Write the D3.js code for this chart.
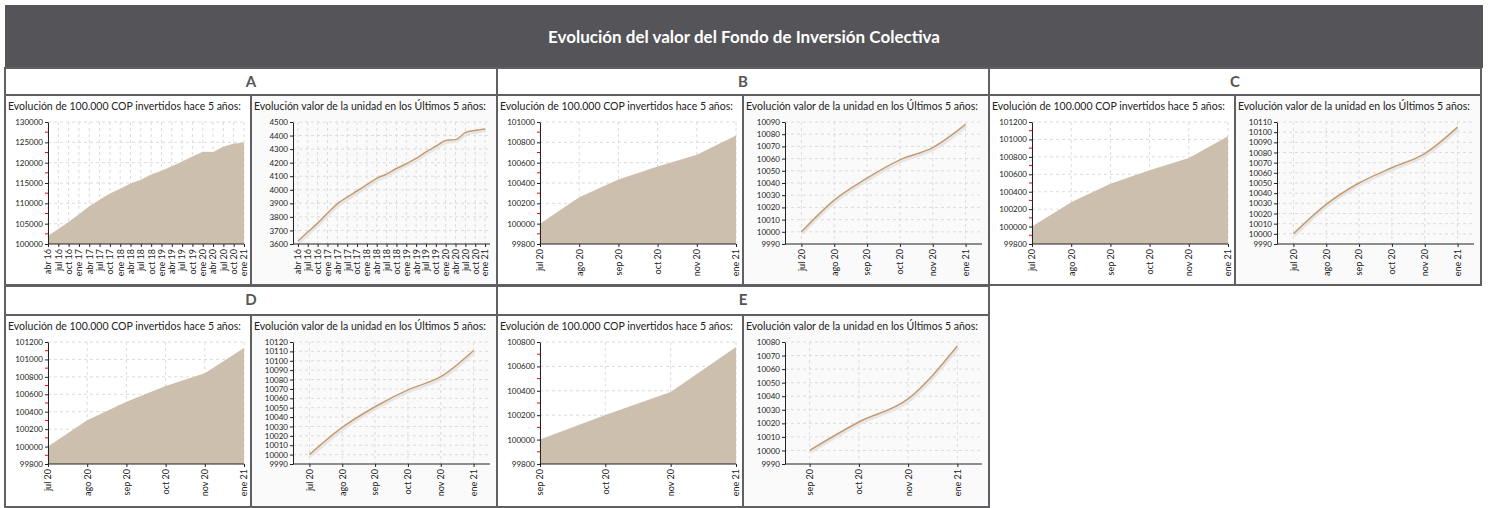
<!DOCTYPE html>
<meta charset="utf-8">
<style>
body { margin: 0; background: #fff; }
.grid line { stroke: #dcdcdc; stroke-dasharray: 3,3; }
.axis path, .axis line { stroke: #222; }
.axis text { font-family: Lato, sans-serif; font-size: 8px; fill: #222; }
.sub { font-family: Lato, sans-serif; font-size: 10.5px; fill: #222; }
</style>
<body>
<svg width="1488" height="508"></svg>
<script src="https://d3js.org/d3.v7.min.js"></script>
<script>

// fechas del eje x
var labelsA = ["abr 16","jul 16","oct 16","ene 17","abr 17","jul 17","oct 17","ene 18","abr 18","jul 18",
               "oct 18","ene 19","abr 19","jul 19","oct 19","ene 20","abr 20","jul 20","oct 20","ene 21"];
var labelsBCD = ["jul 20","ago 20","sep 20","oct 20","nov 20","ene 21"];
var labelsE = ["sep 20","oct 20","nov 20","ene 21"];

// evolucion de 100.000 COP
var valorA = [102000,103700,105400,107300,109300,110900,112400,113600,114900,115800,
              117100,118000,119100,120300,121500,122700,122600,123900,124700,124900];
var valorB = [100000,100260,100435,100563,100678,100868];
var valorC = [100000,100280,100491,100645,100787,101036];
var valorD = [100000,100301,100513,100695,100841,101130];
var valorE = [100000,100202,100390,100758];

// valor de la unidad
var unidadA = [3620,3688,3754,3827,3896,3945,3991,4038,4084,4116,
               4157,4192,4231,4280,4321,4363,4370,4422,4438,4448];
var unidadB = [10000,10026,10044,10059,10069,10088];
var unidadC = [10000,10029,10050,10065,10079,10105];
var unidadD = [10000,10029,10051,10069,10083,10111];
var unidadE = [10000,10021,10038,10077];

// marcas del eje y
var ticksValorA = [100000,105000,110000,115000,120000,125000,130000];
var ticksValorB = [99800,100000,100200,100400,100600,100800,101000];
var ticksValorC = [99800,100000,100200,100400,100600,100800,101000,101200];
var ticksValorD = [99800,100000,100200,100400,100600,100800,101000,101200];
var ticksValorE = [99800,100000,100200,100400,100600,100800];
var ticksUnidadA = [3600,3700,3800,3900,4000,4100,4200,4300,4400,4500];
var ticksUnidadB = [9990,10000,10010,10020,10030,10040,10050,10060,10070,10080,10090];
var ticksUnidadC = [9990,10000,10010,10020,10030,10040,10050,10060,10070,10080,10090,10100,10110];
var ticksUnidadD = [9990,10000,10010,10020,10030,10040,10050,10060,10070,10080,10090,10100,10110,10120];
var ticksUnidadE = [9990,10000,10010,10020,10030,10040,10050,10060,10070,10080];

var fondos = [
  {name: "A", col: 0, row: 0, labels: labelsA, valor: valorA, vTicks: ticksValorA, unidad: unidadA, uTicks: ticksUnidadA},
  {name: "B", col: 1, row: 0, labels: labelsBCD, valor: valorB, vTicks: ticksValorB, unidad: unidadB, uTicks: ticksUnidadB},
  {name: "C", col: 2, row: 0, labels: labelsBCD, valor: valorC, vTicks: ticksValorC, unidad: unidadC, uTicks: ticksUnidadC},
  {name: "D", col: 0, row: 1, labels: labelsBCD, valor: valorD, vTicks: ticksValorD, unidad: unidadD, uTicks: ticksUnidadD},
  {name: "E", col: 1, row: 1, labels: labelsE, valor: valorE, vTicks: ticksValorE, unidad: unidadE, uTicks: ticksUnidadE}
];

var svg = d3.select("svg");
var border = "#606064";
var groupW = 492, cellW = 246;
var rows = [{title: 68, cell: 95, bottom: 285}, {title: 286, cell: 315, bottom: 507}];

// cabecera
svg.append("rect")
    .attr("x", 5).attr("y", 5).attr("width", 1478).attr("height", 63)
    .attr("fill", "#545459");
svg.append("text")
    .attr("x", 744).attr("y", 43)
    .attr("text-anchor", "middle")
    .attr("font-family", "Lato, sans-serif")
    .attr("font-weight", "bold")
    .attr("font-size", "17px")
    .attr("fill", "#fff")
    .text("Evolución del valor del Fondo de Inversión Colectiva");

fondos.forEach(function(f) {
  var r = rows[f.row],
      x0 = 5 + f.col * groupW;

  var g = svg.append("g");

  g.append("rect")
      .attr("x", x0).attr("y", r.title)
      .attr("width", groupW).attr("height", r.cell - r.title)
      .attr("fill", "#fff").attr("stroke", border).attr("stroke-width", 2);
  g.append("text")
      .attr("x", x0 + groupW / 2).attr("y", r.title + 19)
      .attr("text-anchor", "middle")
      .attr("font-family", "Lato, sans-serif")
      .attr("font-weight", "bold")
      .attr("font-size", "15px")
      .attr("fill", "#555")
      .text(f.name);

  drawChart(g, x0, r, f, true);
  drawChart(g, x0 + cellW, r, f, false);
});

function drawChart(g, cx, r, f, isArea) {
  var cy = r.cell, h = r.bottom - r.cell;

  g.append("rect")
      .attr("x", cx).attr("y", cy).attr("width", cellW).attr("height", h)
      .attr("fill", isArea ? "#fff" : "#fafafa")
      .attr("stroke", border).attr("stroke-width", 2);

  g.append("text")
      .attr("class", "sub")
      .attr("x", cx + 3).attr("y", cy + 14.5)
      .text(isArea ? "Evolución de 100.000 COP invertidos hace 5 años:" : "Evolución valor de la unidad en los Últimos 5 años:");

  var left = cx + (isArea ? 43 : 42), right = cx + 239,
      top = cy + 27, bottom = cy + 149;

  var values = isArea ? f.valor : f.unidad,
      ticks = isArea ? f.vTicks : f.uTicks;

  var x = d3.scalePoint()
      .domain(f.labels)
      .range([left, right])
      .padding(isArea ? 0 : 0.5);

  var y = d3.scaleLinear()
      .domain([ticks[0], ticks[ticks.length - 1]])
      .range([bottom, top]);

  var data = f.labels.map(function(l, i) { return {label: l, value: values[i]}; });

  // rejilla
  var grid = g.append("g").attr("class", "grid");
  grid.selectAll(".h")
    .data(ticks.slice(1))
    .enter().append("line")
      .attr("x1", left).attr("x2", right)
      .attr("y1", function(d) { return y(d); })
      .attr("y2", function(d) { return y(d); });
  grid.selectAll(".v")
    .data(f.labels)
    .enter().append("line")
      .attr("x1", function(d) { return x(d); })
      .attr("x2", function(d) { return x(d); })
      .attr("y1", top).attr("y2", bottom);

  if (isArea) {
    var area = d3.area()
        .x(function(d) { return x(d.label); })
        .y0(bottom)
        .y1(function(d) { return y(d.value); });
    g.append("path")
        .datum(data)
        .attr("fill", "#cdbfae")
        .attr("d", area);
  } else {
    var line = d3.line()
        .curve(d3.curveMonotoneX)
        .x(function(d) { return x(d.label); })
        .y(function(d) { return y(d.value); });
    g.append("path")
        .datum(data)
        .attr("fill", "none")
        .attr("stroke", "#e6e6e6")
        .attr("stroke-width", 2.5)
        .attr("transform", "translate(1,2)")
        .attr("d", line);
    g.append("path")
        .datum(data)
        .attr("fill", "none")
        .attr("stroke", "#c49a6e")
        .attr("stroke-width", 1.5)
        .attr("d", line);
  }

  g.append("g")
      .attr("class", "axis")
      .attr("transform", "translate(" + left + ",0)")
      .call(d3.axisLeft(y).tickValues(ticks).tickFormat(d3.format("d")).tickSize(3).tickSizeOuter(0).tickPadding(2));

  // marcas intermedias en rojo
  if (isArea) {
    g.append("g").selectAll("line")
      .data(ticks.slice(1))
      .enter().append("line")
        .attr("x1", left - 3).attr("x2", left)
        .attr("y1", function(d, i) { return (y(d) + y(ticks[i])) / 2; })
        .attr("y2", function(d, i) { return (y(d) + y(ticks[i])) / 2; })
        .attr("stroke", "red");
  }

  var xAxis = g.append("g")
      .attr("class", "axis")
      .attr("transform", "translate(0," + bottom + ")")
      .call(d3.axisBottom(x).tickSize(3).tickSizeOuter(0));
  xAxis.select(".domain").attr("d", "M" + left + ",0H" + right);
  xAxis.selectAll("text")
      .style("font-size", "9px")
      .attr("transform", "rotate(-90)")
      .attr("text-anchor", "end")
      .attr("x", -5)
      .attr("y", 0)
      .attr("dy", "0.32em");
}
</script>
